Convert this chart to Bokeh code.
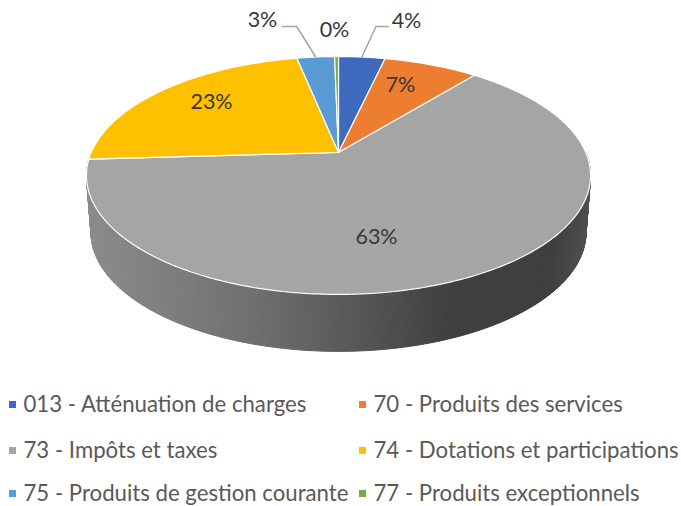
import numpy as np
from bokeh.plotting import figure
from bokeh.models import Range1d
from bokeh.core.properties import value
from bokeh.embed import file_html
from bokeh.resources import INLINE

categories = ["013 - Atténuation de charges", "70 - Produits des services", "73 - Impôts et taxes",
              "74 - Dotations et participations", "75 - Produits de gestion courante", "77 - Produits exceptionnels"]
shares = [3.6, 7.3, 63.2, 22.7, 2.9, 0.3]
colors = ["#3f69bd", "#ed7d31", "#a5a5a5", "#ffc000", "#5b9bd5", "#70ad47"]

FONT = value("Lato")
CX, CY, A, B, K = 338.0, 152.0, 247.3, 114.5, 0.193
DEPTH, SHRINK = 57.0, 0.982


def rim(theta):
    X, Y = np.sin(theta), np.cos(theta)
    w = 1 + K * Y
    return CX + A * X / w, CY - B * Y / w


p = figure(width=681, height=506, x_range=Range1d(0, 681), y_range=Range1d(506, 0),
           output_backend="svg", toolbar_location=None, min_border=0, outline_line_color=None,
           background_fill_color="white", border_fill_color="white")
p.xaxis.visible = False
p.yaxis.visible = False
p.grid.visible = False

# wall
stops_x = [86, 250, 338, 450, 550, 590]
stops_v = [140, 112, 92, 64, 63, 80]
th = np.linspace(np.pi / 2 + 0.0, 3 * np.pi / 2, 241)
xs, ys, cs = [], [], []
for t0, t1 in zip(th[:-1], th[1:]):
    x0, y0 = rim(t0)
    x1, y1 = rim(t1)
    qx = [x0, x1, CX + (x1 - CX) * SHRINK, CX + (x0 - CX) * SHRINK]
    qy = [y0, y1, y1 + DEPTH, y0 + DEPTH]
    v = int(np.interp((x0 + x1) / 2, stops_x, stops_v))
    xs.append(qx)
    ys.append(qy)
    cs.append(f"#{v:02x}{v:02x}{v:02x}")
p.patches(xs, ys, fill_color=cs, line_color=cs, line_width=1)

# top face
edges = np.cumsum([0] + shares) / sum(shares) * 2 * np.pi
for a0, a1, c in zip(edges[:-1], edges[1:], colors):
    t = np.linspace(a0, a1, max(4, int((a1 - a0) * 80)))
    x, y = rim(t)
    p.patch(np.r_[CX, x, CX], np.r_[CY, y, CY], fill_color=c, line_color="white", line_width=1.2)

# data labels
labels = [f"{round(s)}%" for s in shares]
label_xy = [(406, 19), (400, 83), (376, 235), (211, 100), (262, 18), (334, 28)]
for s, (lx, ly) in zip(labels, label_xy):
    p.text([lx], [ly], text=[s], text_font=FONT, text_font_size="21.5px", text_color="#383838",
           text_align="center", text_baseline="middle")

# leader lines
mid = (edges[:-1] + edges[1:]) / 2
for i, elbow, end in [(0, 14, 27), (4, -19, -34)]:
    ax, ay = rim(mid[i])
    p.line([ax, ax + elbow, ax + end], [ay, 26, 26], line_color="#a6a6a6", line_width=1.5)

# legend
legend_xy = [(12, 403), (362, 403), (12, 449), (362, 449), (12, 492), (362, 492)]
for name, c, (lx, ly) in zip(categories, colors, legend_xy):
    p.scatter([lx], [ly + 1], marker="square", size=7, fill_color=c, line_color=c, line_width=0)
    p.text([lx + 11], [ly], text=[name], text_font=FONT, text_font_size="22.2px", text_color="#595959",
           text_align="left", text_baseline="middle")

open("out.html", "w").write(file_html(p, INLINE))
